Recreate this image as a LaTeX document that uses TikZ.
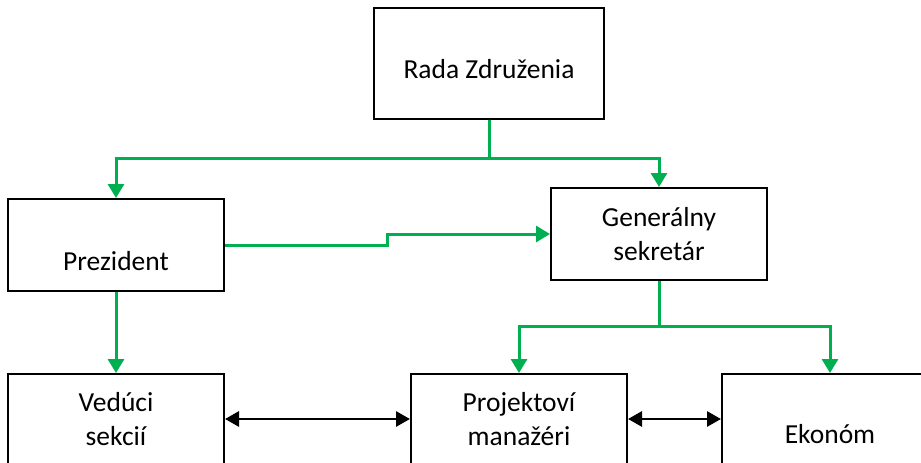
\documentclass[tikz,border=0pt]{standalone}
\usepackage{fontspec}
\setmainfont{Carlito}
\usepackage{tikz}
\usetikzlibrary{arrows.meta, positioning, calc}
\definecolor{officegreen}{RGB}{0, 176, 80}

\begin{document}
\begin{tikzpicture}[x=1pt, y=-1pt,
    box/.style={rectangle, draw=black, line width=2pt, fill=white,
                minimum width=216pt, minimum height=92pt, align=center,
                font=\fontsize{27.5}{34}\selectfont},
    flow/.style={-{Triangle[length=14pt, width=16pt]}, line width=3pt, color=officegreen},
    link/.style={{Triangle[length=14pt, width=15pt]}-{Triangle[length=14pt, width=15pt]},
                 line width=2.8pt, color=black},
]
    \clip (0,0) rectangle (921,463);

    \node[box, minimum width=230pt, minimum height=111pt, text height=30pt, text depth=0pt]
        (rada) at (489,63.5) {Rada Združenia};

    % second level
    \node[box, below left=78pt and 148pt of rada, text height=50pt, text depth=0pt] (prez) {Prezident};
    \node[box, right=325pt of prez, yshift=11pt] (gen) {Generálny\\sekretár};

    % third level
    \node[box, below=81pt of prez, minimum height=90pt] (ved) {Vedúci\\sekcií};
    \node[box, right=185pt of ved, minimum height=90pt] (proj) {Projektoví\\manažéri};
    \node[box, right=93pt of proj, minimum height=90pt, text height=48pt, text depth=0pt] (ekon) {Ekonóm};

    % green connectors
    \coordinate (split1) at ($(rada.south)+(0,38)$);
    \coordinate (split2) at ($(gen.south)+(0,45)$);
    \draw[flow] (rada.south) -- (split1) -| (prez.north);
    \draw[flow] (split1) -| (gen.north);
    \draw[flow] (prez.east) -- ++(162,0) |- (gen.west);
    \draw[flow] (prez.south) -- (ved.north);
    \draw[flow] (gen.south) -- (split2) -| (proj.north);
    \draw[flow] (split2) -| (ekon.north);

    % black links
    \draw[link] (ved.east) -- (proj.west);
    \draw[link] (proj.east) -- (ekon.west);
\end{tikzpicture}
\end{document}
